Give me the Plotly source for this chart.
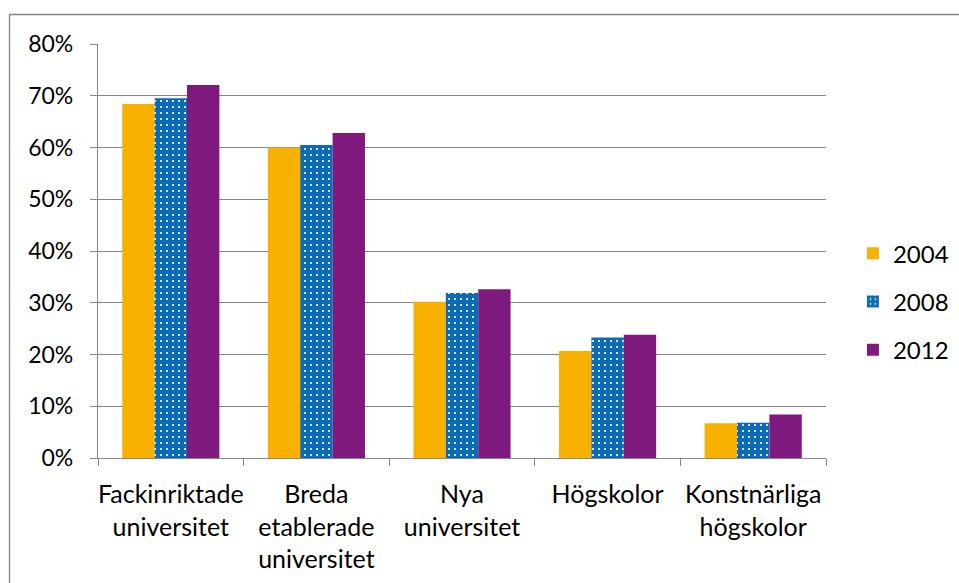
import plotly.graph_objects as go

categories = ["Fackinriktade<br>universitet", "Breda<br>etablerade<br>universitet",
              "Nya<br>universitet", "Högskolor", "Konstnärliga<br>högskolor"]
years = ["2004", "2008", "2012"]
v2004 = [0.684, 0.600, 0.302, 0.207, 0.067]
v2008 = [0.695, 0.605, 0.319, 0.233, 0.068]
v2012 = [0.721, 0.628, 0.326, 0.238, 0.084]
yticks = [0, 0.1, 0.2, 0.3, 0.4, 0.5, 0.6, 0.7, 0.8]
yticklabels = ["0%", "10%", "20%", "30%", "40%", "50%", "60%", "70%", "80%"]

FONT = "Lato"
GRID = "#868686"

fig = go.Figure()
fig.add_trace(go.Bar(name=years[0], x=categories, y=v2004,
                     marker=dict(color="#F8B100", line=dict(width=0)),
                     legendgroup="a"))
fig.add_trace(go.Bar(name=years[1], x=categories, y=v2008,
                     marker=dict(color="#0A6AB4", line=dict(width=0),
                                 pattern=dict(shape=".", fgcolor="white", bgcolor="#0A6AB4",
                                              fillmode="replace", size=6, solidity=0.1)),
                     legendgroup="b"))
fig.add_trace(go.Bar(name=years[2], x=categories, y=v2012,
                     marker=dict(color="#7E1A7E", line=dict(width=0)),
                     legendgroup="c"))

fig.update_layout(
    width=959, height=583,
    margin=dict(l=98, r=133, t=44, b=125, autoexpand=False),
    paper_bgcolor="white", plot_bgcolor="white",
    barmode="group", bargap=0.333, bargroupgap=0,
    font=dict(family=FONT, size=24, color="black"),
    legend=dict(x=1.037, xanchor="left", y=0.3775, yanchor="middle",
                font=dict(size=24), tracegroupgap=14,
                bgcolor="rgba(0,0,0,0)"),
    showlegend=True,
)
fig.update_xaxes(showline=True, linecolor=GRID, linewidth=1.3,
                 ticks="outside", ticklen=7, tickcolor=GRID, tickwidth=1.3,
                 tickson="boundaries", showgrid=False, tickangle=0,
                 tickfont=dict(size=25, family=FONT), ticklabelstandoff=14)
fig.update_yaxes(range=[0, 0.8], tickvals=yticks, ticktext=yticklabels,
                 showline=True, linecolor=GRID, linewidth=1.3,
                 ticks="outside", ticklen=7, tickcolor=GRID, tickwidth=1.3,
                 showgrid=True, gridcolor=GRID, gridwidth=1.3,
                 zeroline=False, tickfont=dict(size=23, family=FONT),
                 ticklabelstandoff=12)
# outer chart border (partially visible at top and left)
fig.add_shape(type="rect", xref="paper", yref="paper",
              x0=(9.5 - 98) / 728, x1=1.5, y0=-0.6, y1=(458 - 14.5) / 414,
              line=dict(color="#868686", width=1.3), layer="below")

fig.write_html("out.html", config={"displayModeBar": False},
               post_script="document.body.style.margin='0';document.body.style.padding='0';")
